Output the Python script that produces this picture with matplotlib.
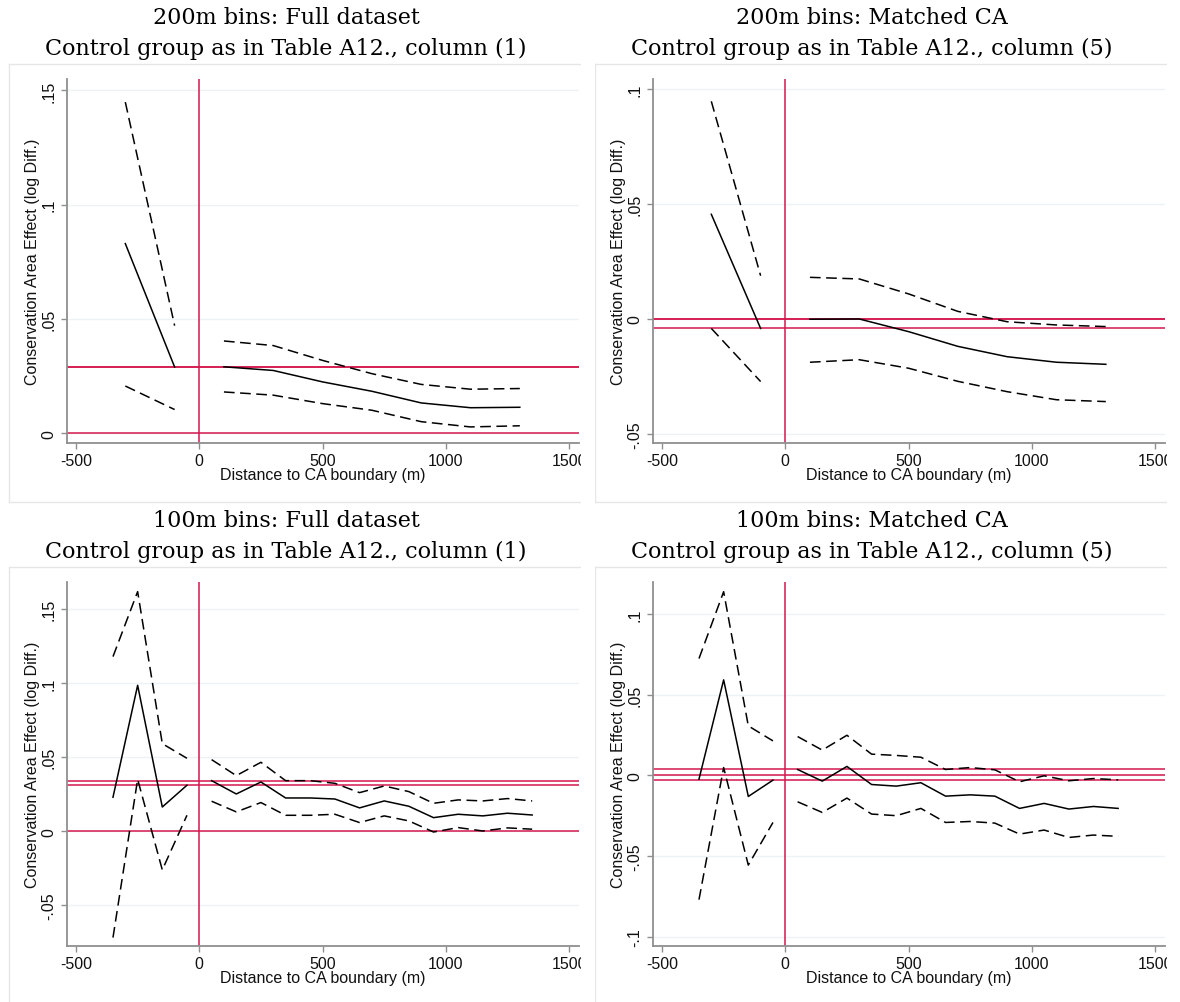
import matplotlib
matplotlib.use("Agg")
import matplotlib.pyplot as plt
from matplotlib.lines import Line2D
from matplotlib.patches import Rectangle

# distance bins (m), bin centres
bins200 = [-300, -100, 100, 300, 500, 700, 900, 1100, 1300]
bins100 = [-350, -250, -150, -50, 50, 150, 250, 350, 450, 550,
           650, 750, 850, 950, 1050, 1150, 1250, 1350]

# 200m bins, full dataset
full200_est = [0.0830, 0.0290, 0.0291, 0.0275, 0.0225, 0.0184, 0.0133, 0.0112, 0.0114]
full200_lo = [0.0207, 0.0104, 0.0181, 0.0167, 0.0130, 0.0101, 0.0051, 0.0028, 0.0033]
full200_hi = [0.1449, 0.0471, 0.0404, 0.0384, 0.0319, 0.0261, 0.0214, 0.0193, 0.0196]

# 200m bins, matched CA
match200_est = [0.0455, -0.0041, -0.0001, 0.0000, -0.0055, -0.0119, -0.0164, -0.0188, -0.0197]
match200_lo = [-0.0041, -0.0272, -0.0188, -0.0177, -0.0214, -0.0271, -0.0316, -0.0351, -0.0359]
match200_hi = [0.0946, 0.0188, 0.0181, 0.0174, 0.0109, 0.0033, -0.0012, -0.0026, -0.0033]

# 100m bins, full dataset
full100_est = [0.0230, 0.0986, 0.0164, 0.0311, 0.0342, 0.0252, 0.0333, 0.0225, 0.0225,
               0.0218, 0.0158, 0.0205, 0.0169, 0.0092, 0.0115, 0.0104, 0.0122, 0.0110]
full100_lo = [-0.0718, 0.0351, -0.0261, 0.0108, 0.0203, 0.0131, 0.0194, 0.0108, 0.0108,
              0.0115, 0.0059, 0.0104, 0.0070, -0.0005, 0.0025, 0.0002, 0.0023, 0.0014]
full100_hi = [0.1180, 0.1619, 0.0592, 0.0493, 0.0484, 0.0376, 0.0466, 0.0342, 0.0342,
              0.0324, 0.0261, 0.0306, 0.0268, 0.0189, 0.0212, 0.0205, 0.0221, 0.0205]

# 100m bins, matched CA
match100_est = [-0.0023, 0.0592, -0.0130, -0.0029, 0.0037, -0.0035, 0.0056, -0.0056, -0.0066,
                -0.0045, -0.0128, -0.0120, -0.0128, -0.0204, -0.0173, -0.0208, -0.0192, -0.0204]
match100_lo = [-0.0769, 0.0049, -0.0555, -0.0291, -0.0163, -0.0229, -0.0140, -0.0239, -0.0249,
               -0.0204, -0.0291, -0.0285, -0.0295, -0.0363, -0.0338, -0.0384, -0.0369, -0.0377]
match100_hi = [0.0724, 0.1138, 0.0307, 0.0214, 0.0241, 0.0157, 0.0249, 0.0132, 0.0124,
               0.0113, 0.0037, 0.0049, 0.0035, -0.0039, -0.0002, -0.0033, -0.0019, -0.0027]

xticks = [-500, 0, 500, 1000, 1500]
xtick_labels = ["-500", "0", "500", "1000", "1500"]

yticks_tl = [0, 0.05, 0.1, 0.15]
ylabels_tl = ["0", ".05", ".1", ".15"]
yticks_tr = [-0.05, 0, 0.05, 0.1]
ylabels_tr = ["-.05", "0", ".05", ".1"]
yticks_bl = [-0.05, 0, 0.05, 0.1, 0.15]
ylabels_bl = ["-.05", "0", ".05", ".1", ".15"]
yticks_br = [-0.1, -0.05, 0, 0.05, 0.1]
ylabels_br = ["-.1", "-.05", "0", ".05", ".1"]

titles = [
    ("200m bins: Full dataset", "Control group as in Table A12., column (1)"),
    ("200m bins: Matched CA", "Control group as in Table A12., column (5)"),
    ("100m bins: Full dataset", "Control group as in Table A12., column (1)"),
    ("100m bins: Matched CA", "Control group as in Table A12., column (5)"),
]

RED = "#d4184e"
GRID = "#edf2f5"
AXC = "#8f8f8f"
FRAME = "#e6e6e6"

W, H = 1180, 1003
fig = plt.figure(figsize=(W / 100, H / 100), dpi=100)
plt.rcParams["font.family"] = ["Liberation Sans", "DejaVu Sans"]


def fx(px):
    return px / W


def fy(py):
    return 1 - py / H


def draw_panel(ax, x, est, lo, hi, ylim, yticks, ylabels):
    left = [i for i, v in enumerate(x) if v < 0]
    right = [i for i, v in enumerate(x) if v > 0]
    for idx in (left, right):
        xs = [x[i] for i in idx]
        ax.plot(xs, [est[i] for i in idx], color="black", lw=1.1, zorder=3)
        ax.plot(xs, [lo[i] for i in idx], color="black", lw=1.1, dashes=(7, 3.6), zorder=3)
        ax.plot(xs, [hi[i] for i in idx], color="black", lw=1.1, dashes=(7, 3.6), zorder=3)
    # reference lines: zero and the estimates either side of the boundary
    for yv in (0, est[left[-1]], est[right[0]]):
        ax.axhline(yv, color=RED, lw=1.1, zorder=2)
    ax.axvline(0, color=RED, lw=1.1, zorder=2)

    ax.set_xlim(-536.5, 1540)
    ax.set_ylim(*ylim)
    ax.set_xticks(xticks)
    ax.set_xticklabels(xtick_labels)
    ax.set_yticks(yticks)
    ax.set_yticklabels(ylabels, rotation=90, va="center")
    ax.yaxis.grid(True, color=GRID, lw=1.0)
    ax.set_axisbelow(True)
    for s in ("top", "right"):
        ax.spines[s].set_visible(False)
    for s in ("left", "bottom"):
        ax.spines[s].set_color(AXC)
        ax.spines[s].set_linewidth(1.3)
    ax.tick_params(direction="out", length=4.5, width=1.0, color=AXC,
                   labelsize=11.5, labelcolor="#111111", pad=3)
    ax.set_xlabel("Distance to CA boundary (m)", fontsize=11.5, color="#111111")
    ax.set_ylabel("Conservation Area Effect (log Diff.)", fontsize=11.5, color="#111111")
    ax.xaxis.set_label_coords(0.5, -0.066)
    ax.yaxis.set_label_coords(-0.052, 0.5)


panels = [
    (67, 80, bins200, full200_est, full200_lo, full200_hi, (-0.00423, 0.1550), yticks_tl, ylabels_tl),
    (653, 80, bins200, match200_est, match200_lo, match200_hi, (-0.0539, 0.1043), yticks_tr, ylabels_tr),
    (67, 583, bins100, full100_est, full100_lo, full100_hi, (-0.0775, 0.1684), yticks_bl, ylabels_bl),
    (653, 583, bins100, match100_est, match100_lo, match100_hi, (-0.1056, 0.1198), yticks_br, ylabels_br),
]

aw, ah = 512, 364
for k, (l, t, x, est, lo, hi, ylim, yt, yl) in enumerate(panels):
    ax = fig.add_axes([fx(l), fy(t + ah), aw / W, ah / H])
    draw_panel(ax, x, est, lo, hi, ylim, yt, yl)

    # graph region outline (cut off on the right)
    ox = l - 58
    oy = t - 15
    for xs, ys in (([ox, ox + 572], [oy, oy]),
                   ([ox, ox + 572], [oy + 438, oy + 438]),
                   ([ox, ox], [oy, oy + 438])):
        fig.add_artist(Line2D([fx(v) for v in xs], [fy(v) for v in ys],
                              color=FRAME, lw=1.0, zorder=0))

    cx = l + 219
    fig.text(fx(cx), fy(t - 62), titles[k][0], ha="center", va="center",
             family="DejaVu Serif", fontsize=16)
    fig.text(fx(cx), fy(t - 31), titles[k][1], ha="center", va="center",
             family="DejaVu Serif", fontsize=16)

# the right-hand edge of each column is trimmed
for x0, x1 in ((581, 595), (1167, 1180)):
    fig.add_artist(Rectangle((fx(x0), 0), (x1 - x0) / W, 1, transform=fig.transFigure,
                             facecolor="white", edgecolor="none", zorder=10))

fig.savefig("out.png", dpi=100, facecolor="white")
